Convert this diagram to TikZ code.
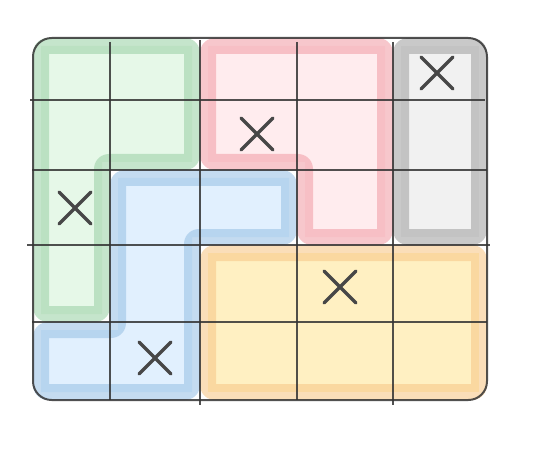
\documentclass[tikz,border=0pt]{standalone}
\usetikzlibrary{calc}
\definecolor{grnfill}{HTML}{E6F8E8}
\definecolor{grnband}{HTML}{9FD3AA}
\definecolor{redfill}{HTML}{FFECEE}
\definecolor{redband}{HTML}{F2A2AA}
\definecolor{grayfill}{HTML}{F1F1F1}
\definecolor{grayband}{HTML}{A5A5A5}
\definecolor{bluefill}{HTML}{E1F0FE}
\definecolor{blueband}{HTML}{9CC3E6}
\definecolor{yelfill}{HTML}{FFF0C2}
\definecolor{yelband}{HTML}{F7C88A}
\begin{document}
\begin{tikzpicture}[x=0.75pt,y=-0.75pt,
	band/.style={line width=12pt, line join=round, rounded corners=5pt, draw opacity=0.6},
	gridline/.style={line width=1.1pt, color=black!80, draw opacity=0.85},
	cross/.style={line width=2.4pt, color=black!72, line cap=round}]
	\useasboundingbox (0,0) rectangle (546,456);
	% region fills
	\fill[grnfill] (41,46) -- (192,46) -- (192,162) -- (102,162) -- (102,314) -- (41,314) -- cycle;
	\fill[redfill] (208,46) -- (385,46) -- (385,237) -- (305,237) -- (305,162) -- (208,162) -- cycle;
	\fill[grayfill] (401,46) rectangle (479,237);
	\fill[bluefill] (118,178) -- (289,178) -- (289,237) -- (192,237) -- (192,392) -- (41,392) -- (41,330) -- (118,330) -- cycle;
	\fill[yelfill] (208,253) rectangle (479,392);
	% region borders
	\draw[band, grnband] (41,46) -- (192,46) -- (192,162) -- (102,162) -- (102,314) -- (41,314) -- cycle;
	\draw[band, redband] (208,46) -- (385,46) -- (385,237) -- (305,237) -- (305,162) -- (208,162) -- cycle;
	\draw[band, grayband] (401,46) rectangle (479,237);
	\draw[band, blueband] (118,178) -- (289,178) -- (289,237) -- (192,237) -- (192,392) -- (41,392) -- (41,330) -- (118,330) -- cycle;
	\draw[band, yelband] (208,253) rectangle (479,392);
	% grid
	\draw[gridline, line width=1.5pt, rounded corners=14pt] (33,38) rectangle (487,400);
	\foreach \x/\ya/\yb in {110/42/400, 200/40/405, 297/42/400, 393/42/405} {
		\draw[gridline] (\x,\ya) -- (\x,\yb);
	}
	\foreach \y/\xa/\xb in {100/30/485, 170/32/487, 245/27/490, 322/32/487} {
		\draw[gridline] (\xa,\y) -- (\xb,\y);
	}
	% crosses
	\foreach \cx/\cy in {75/208, 257/134, 437/73, 340/287, 155/358} {
		\draw[cross] (\cx-16,\cy-16) -- (\cx+16,\cy+16) (\cx-16,\cy+16) -- (\cx+16,\cy-16);
	}
\end{tikzpicture}
\end{document}
